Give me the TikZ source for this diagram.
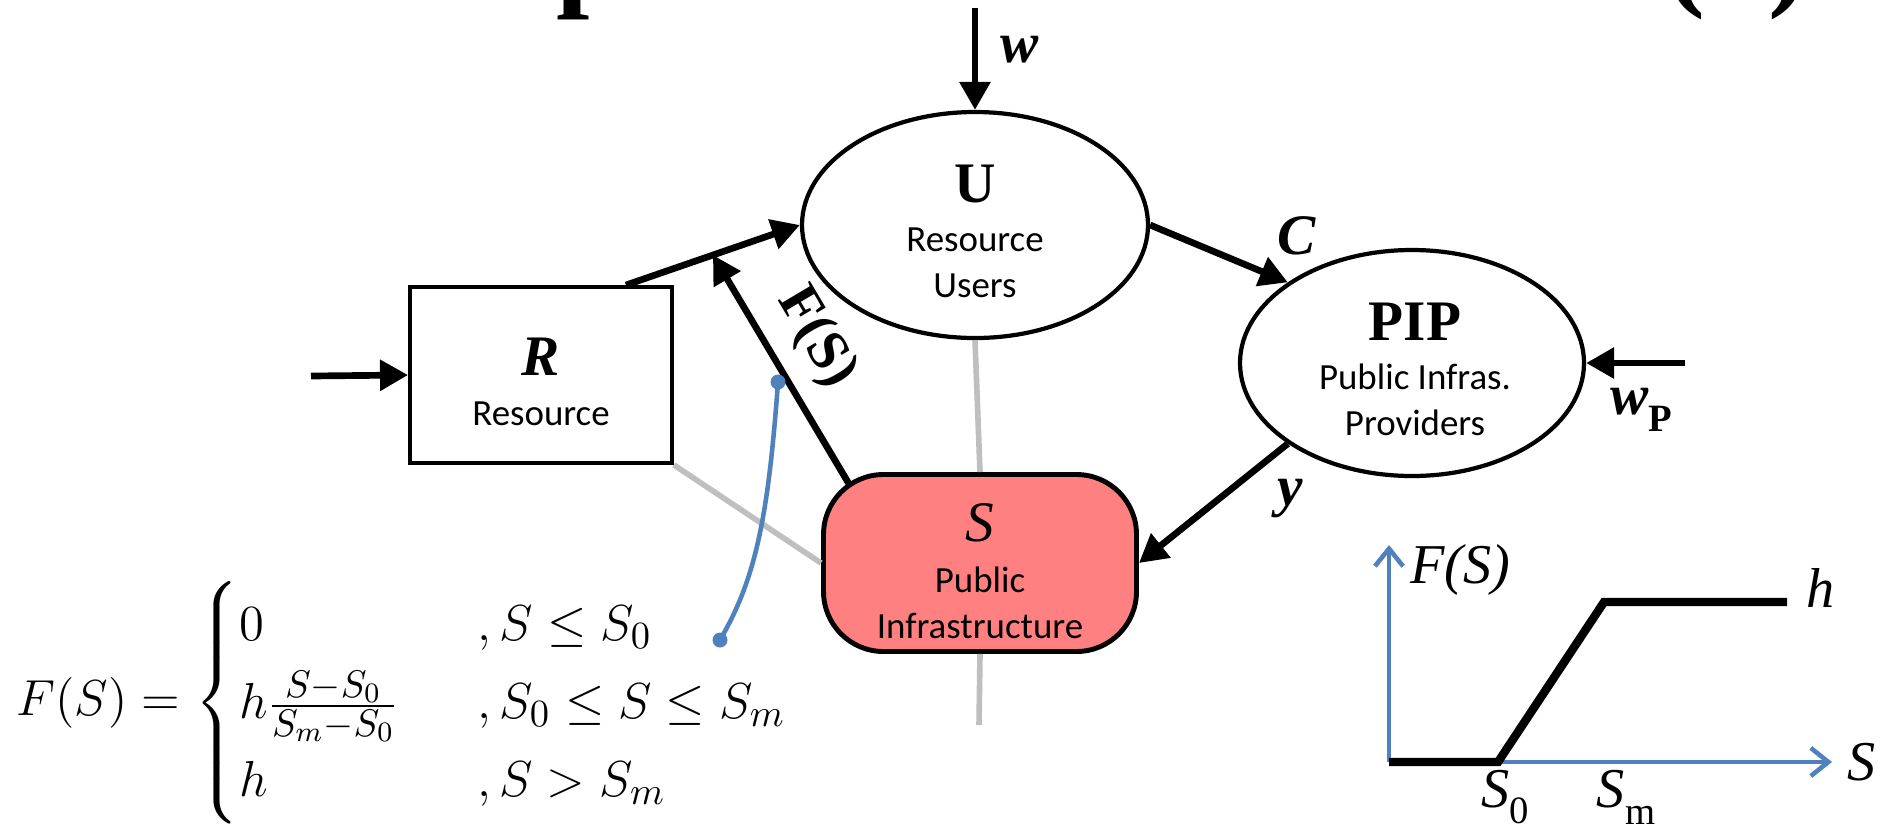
\documentclass[tikz,border=0pt]{standalone}
\usepackage{amsmath}
\usepackage{fontspec}
\usetikzlibrary{arrows.meta,shapes.geometric,calc}
\newfontfamily\labelsans{Carlito}
\newfontfamily\labelserif{Liberation Serif}
\definecolor{infrafill}{HTML}{FF8080}
\definecolor{tiegray}{HTML}{BFBFBF}
\definecolor{plotblue}{HTML}{4F81BD}
\newcommand{\lowsub}[1]{\raisebox{-0.3em}{\fontsize{11}{11}\selectfont #1}}
\begin{document}
\begin{tikzpicture}[x=0.1mm,y=-0.1mm,
  flow/.style={line width=1.9pt,-{Triangle[length=8pt,width=8.5pt]}},
  tie/.style={line width=1.6pt,draw=tiegray},
  boxnode/.style={draw,line width=1.1pt,rectangle,inner sep=0pt},
  ellnode/.style={draw,line width=1.2pt,ellipse,fill=white,inner sep=0pt},
  infra/.style={draw,line width=1.4pt,rectangle,rounded corners=6mm,fill=infrafill,inner sep=0pt},
  sym/.style={font=\labelserif\fontsize{16.3}{18}\selectfont,inner sep=0pt},
  small/.style={font=\labelsans\fontsize{10.5}{13}\selectfont,align=center,inner sep=0pt},
  axis/.style={line width=1.3pt,draw=plotblue,-{Straight Barb[length=5pt,width=8pt,line width=1.3pt]}},
  plotlbl/.style={font=\labelserif\itshape\fontsize{16}{18}\selectfont,inner sep=0pt},
  pointer/.style={line width=1.3pt,draw=plotblue}
]
\useasboundingbox (0,0) rectangle (1892,830);

% descenders of the heading line above the frame
\begin{scope}
  \clip (0,0) rectangle (1892,830);
  \node[font=\labelserif\bfseries\fontsize{34}{34}\selectfont,anchor=base west,inner sep=0pt] (headp) at (556,-6) {p};
  \node[font=\labelserif\bfseries\fontsize{34}{34}\selectfont,anchor=base west,inner sep=0pt] (headl) at (1665,-6) {(};
  \node[font=\labelserif\bfseries\fontsize{34}{34}\selectfont,anchor=base west,inner sep=0pt] (headr) at (1768,-6) {)};
\end{scope}

% main blocks
\node[boxnode,minimum width=26.2mm,minimum height=17.6mm] (R) at (541,375) {};
\node[ellnode,minimum width=34.6mm,minimum height=22.6mm] (U) at (975,225) {};
\node[ellnode,minimum width=34.4mm,minimum height=22.6mm] (PIP) at (1412,363) {};
\node[infra,minimum width=31.3mm,minimum height=17.7mm] (S) at (980,563) {};

% block captions
\node[sym] (Rsym) at (541,357) {\bfseries\itshape R};
\node[small] (Rtxt) at (541,414) {Resource};
\node[sym] (Usym) at (975,184) {\bfseries U};
\node[small] (Utxt) at (975,263) {Resource\\Users};
\node[sym] (Psym) at (1415,322) {\bfseries PIP};
\node[small] (Ptxt) at (1415,400) {Public Infras.\\Providers};
\node[sym] (Ssym) at (980,523) {\itshape S};
\node[small] (Stxt) at (980,603) {Public\\Infrastructure};

% grey coupling lines
\coordinate (Sdown) at (979,725);
\draw[tie] (U.south) -- (S.north);
\draw[tie] (S.south) -- (Sdown);
\draw[tie] (R.south east) -- (S.west);

% flows
\coordinate (wsrc) at (975,8);
\coordinate (rsrc) at (311,376);
\coordinate (wpsrc) at (1685,363);
\coordinate (Rtop) at ([xshift=-4.8mm]R.north east);
\coordinate (fsTip) at ($(Rtop)!0.5!(U.west)$);
\draw[flow] (wsrc) -- (U.north);
\draw[flow] (rsrc) -- (R.west);
\draw[flow] (Rtop) -- (U.west);
\draw[flow] ($(S.north west)+(28,12)$) -- (fsTip);
\draw[flow] (U.east) -- (PIP.147);
\draw[flow] (PIP.213) -- (S.east);
\draw[flow] (wpsrc) -- (PIP.east);

% flow labels
\node[sym] (wlbl) at (1020,50) {\bfseries\itshape w};
\node[sym] (Clbl) at (1297,236) {\bfseries\itshape C};
\node[sym] (ylbl) at (1290,499) {\bfseries\itshape y};
\node[sym] (wplbl) at (1641,410) {{\bfseries\itshape w}\lowsub{\bfseries P}};
\node[sym,rotate=-59.3] (fslbl) at (816,338) {\bfseries F(S)};

% pointer from the arrow to its definition
\coordinate (ptop) at (778,382);
\coordinate (pbot) at (720,640);
\draw[pointer] (ptop) .. controls (768,520) and (755,580) .. (pbot);
\fill[plotblue] (ptop) circle[radius=0.75mm];
\fill[plotblue] (pbot) circle[radius=0.75mm];

% definition of F(S)
\node[anchor=west,inner sep=0pt,font=\fontsize{15.5}{18.5}\selectfont] (Fdef) at (16,703)
  {$F(S)=\begin{cases}0 & \hspace{7pt},S\leq S_0\\ h\frac{S-S_0}{S_m-S_0} & \hspace{7pt},S_0\leq S\leq S_m\\ h & \hspace{7pt},S>S_m\end{cases}$};

% sketch of F(S)
\coordinate (O) at (1389,762);
\coordinate (ytip) at (1389,545);
\coordinate (xtip) at (1832,762);
\coordinate (k0) at (1498,762);
\coordinate (k1) at (1604,602);
\coordinate (k2) at (1787,602);
\draw[axis] (O) -- (ytip);
\draw[axis] (O) -- (xtip);
\draw[line width=2.4pt,line join=miter] (O) -- (k0) -- (k1) -- (k2);
\node[plotlbl] (fsaxis) at (1460,570) {F(S)};
\node[plotlbl] (hlbl) at (1821,588) {h};
\node[plotlbl] (saxis) at (1862,762) {S};
\node[plotlbl] (s0lbl) at (1505,797) {S{\upshape\lowsub{0}}};
\node[plotlbl] (smlbl) at (1626,797) {S{\upshape\lowsub{m}}};
\end{tikzpicture}
\end{document}
